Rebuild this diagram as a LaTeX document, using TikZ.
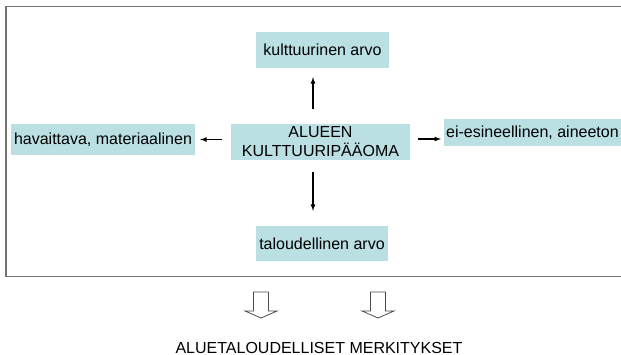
\documentclass[tikz,border=0pt]{standalone}
\usepackage{xcolor}
\usepackage{fontspec}
\setmainfont{Liberation Sans}
\usepackage{tikz}
\usetikzlibrary{positioning, calc, arrows}
\definecolor{paleteal}{rgb}{0.73, 0.88, 0.89}
\definecolor{framegray}{rgb}{0.45, 0.45, 0.45}

\begin{document}
\begin{tikzpicture}[x=1pt, y=-1pt,
		every node/.style={font=\fontsize{16}{19}\selectfont},
		valuebox/.style={fill=paleteal, inner sep=0pt, align=center},
		arr/.style={-latex, line width=1.2pt, black}]
		\useasboundingbox (0,0) rectangle (621,355);
		\clip (0,0) rectangle (621,355);
		\pgfmathsetmacro{\shafthalf}{7.5}
		\pgfmathsetmacro{\headhalf}{16}
		\draw[framegray, line width=1.4pt] (6,6.5) rectangle (630,276.5);
		\node[valuebox, minimum width=133, minimum height=36] (culture) at (322.5,50) {kulttuurinen arvo};
		\node[valuebox, minimum width=179, minimum height=36] (capital) at (320.5,142) {ALUEEN\\KULTTUURIP\"A\"AOMA};
		\node[valuebox, minimum width=184, minimum height=31] (tangible) at (103,139.5) {havaittava, materiaalinen};
		\node[valuebox, anchor=west, inner xsep=2pt, minimum height=27] (intangible) at (444,132.5) {ei-esineellinen, aineeton};
		\node[valuebox, minimum width=132, minimum height=35] (economy) at (322,243.5) {taloudellinen arvo};
		\node[anchor=base] (regional) at (319,353) {ALUETALOUDELLISET MERKITYKSET};
		\draw[arr, shorten <=15pt, shorten >=9pt] ([xshift=-7.5pt]capital.north) -- ([xshift=-9.5pt]culture.south);
		\draw[arr, shorten <=12pt, shorten >=15pt] ([xshift=-7.5pt]capital.south) -- ([xshift=-9pt]economy.north);
		\draw[arr, shorten <=9pt, shorten >=5pt] (capital.west |- tangible.east) -- (tangible.east);
		\draw[arr, shorten <=8pt, shorten >=3pt] ([yshift=3pt]capital.east) -- ([yshift=3pt]capital.east -| intangible.west);
		\foreach \cx in {261, 378} {
			\draw[black!70, line width=0.8pt, fill=white] (\cx-\shafthalf,292) -- (\cx+\shafthalf,292) -- (\cx+\shafthalf,311) -- (\cx+\headhalf,311) -- (\cx,318) -- (\cx-\headhalf,311) -- (\cx-\shafthalf,311) -- cycle;
		}
		%%\draw (regional.north) -- (economy.south);
\end{tikzpicture}
\end{document}
